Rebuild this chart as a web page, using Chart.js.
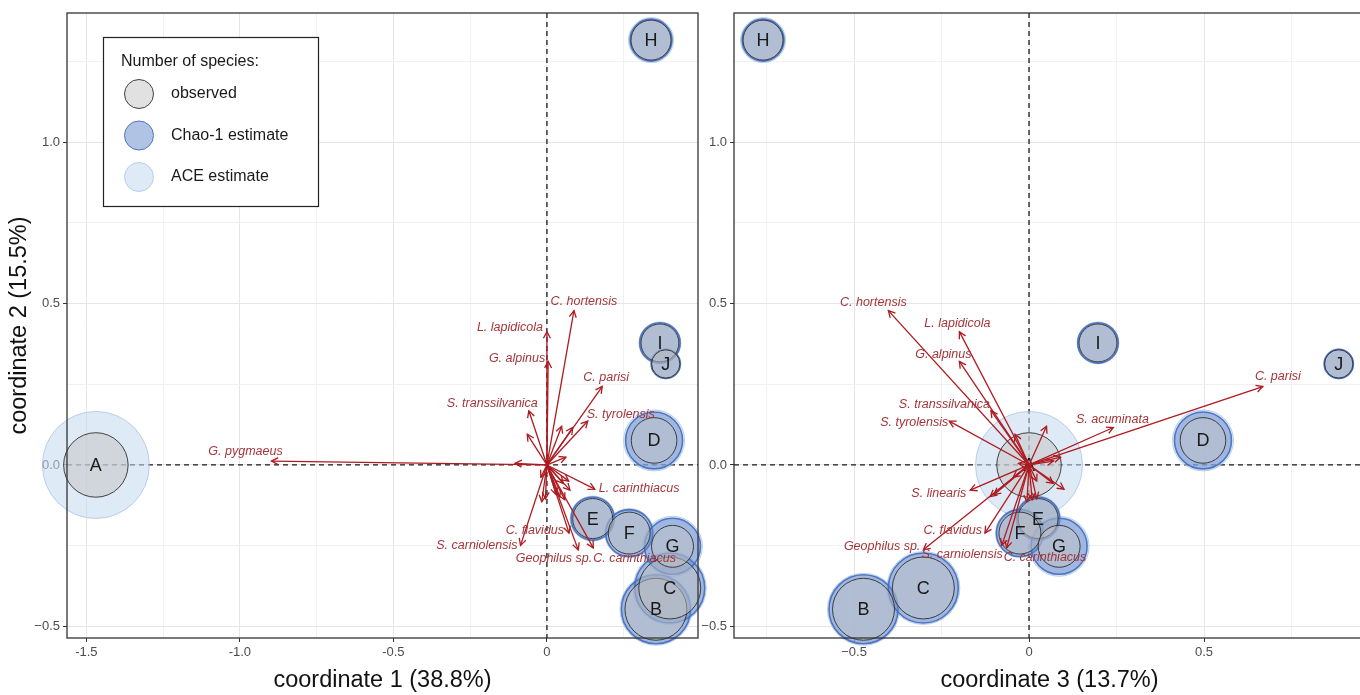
<!DOCTYPE html>
<html>
<head>
<meta charset="utf-8">
<script src="https://cdn.jsdelivr.net/npm/chart.js@4.4.1/dist/chart.umd.min.js"></script>
<style>
  html, body { margin: 0; padding: 0; background: #fff; overflow: hidden; width: 1360px; height: 695px; }
  #left { position: absolute; left: 0; top: 0; }
  #right { position: absolute; left: 700px; top: 0; }
</style>
</head>
<body>
<canvas id="left" width="720" height="695" style="width:720px;height:695px"></canvas>
<canvas id="right" width="670" height="695" style="width:670px;height:695px"></canvas>
<script>
// ---- sites: ordination scores ----
const sites  = ['A', 'B', 'C', 'D', 'E', 'F', 'G', 'H', 'I', 'J'];
const coord1 = [-1.469, 0.355, 0.400, 0.349, 0.149, 0.268, 0.409, 0.339, 0.368, 0.387];
const coord2 = [ 0.000, -0.447, -0.381, 0.076, -0.166, -0.211, -0.252, 1.316, 0.378, 0.313];
const coord3 = [ 0.000, -0.473, -0.302, 0.497, 0.026, -0.026, 0.086, -0.760, 0.197, 0.885];

// ---- number of species per site ----
const observedSpecies = [26, 24, 24, 13, 10, 11, 11, 10, 9, 5];
const chao1Species    = [null, 29.8, 30.6, 20.3, 11.6, 13.8, 19.6, 11.0, 10.2, 5.3];
const aceSpecies      = [71.6, 32.4, 33.3, 23.3, 12.7, 15.0, 22.5, 12.7, 11.0, 5.6];

// ---- species vectors ----
const speciesNames = ['G. pygmaeus', 'C. hortensis', 'L. lapidicola', 'G. alpinus', 'C. parisi',
  'S. transsilvanica', 'S. tyrolensis', 'S. acuminata', 'L. carinthiacus', 'S. linearis',
  'C. flavidus', 'S. carniolensis', 'Geophilus sp.', 'C. carinthiacus',
  '', '', '', '', '', '', '', '', '', '', '', ''];
const vec1 = [-0.897, 0.088, 0.000, 0.004, 0.180, -0.059, 0.133, 0.084, 0.156, 0.075,
  0.072, -0.086, 0.102, 0.151,
  -0.064, 0.048, 0.062, -0.104, 0.071, -0.017, -0.020, 0.042, 0.053, 0.058, -0.005, 0.030];
const vec2 = [0.012, 0.478, 0.413, 0.321, 0.243, 0.168, 0.136, 0.116, -0.075, -0.078,
  -0.211, -0.249, -0.263, -0.257,
  0.095, 0.120, 0.024, 0.005, -0.050, -0.114, -0.038, -0.098, -0.057, -0.108, -0.105, -0.092];
const vec3 = [0.070, -0.402, -0.199, -0.199, 0.668, -0.109, -0.228, 0.241, 0.100, -0.168,
  -0.126, -0.078, -0.302, -0.064,
  -0.040, 0.050, 0.090, -0.030, 0.022, -0.006, -0.045, -0.111, 0.069, 0.009, 0.022, -0.100];

// ---- axes ----
const yTicksMajor = [-0.5, 0, 0.5, 1.0];
const yTickLabels = ['\u22120.5', '0.0', '0.5', '1.0'];
const yTicksMinor = [-0.25, 0.25, 0.75, 1.25];
const x1TicksMajor = [-1.5, -1.0, -0.5, 0];
const x1TickLabels = ['-1.5', '-1.0', '-0.5', '0'];
const x1TicksMinor = [-1.25, -0.75, -0.25, 0.25];
const x3TicksMajor = [-0.5, 0, 0.5];
const x3TickLabels = ['\u22120.5', '0', '0.5'];
const x3TicksMinor = [-0.75, -0.25, 0.25, 0.75];

// ---- styling ----
const FONT = '"Liberation Sans", Arial, Helvetica, sans-serif';
const ARROW = '#ae1a20';
const ARROW_TEXT = '#a5353b';
const OBS_FILL = 'rgba(195,195,195,0.5)',  OBS_LINE = '#2e2e2e';
const CHAO_FILL = 'rgba(98,136,204,0.5)',  CHAO_LINE = 'rgba(66,108,188,0.9)';
const ACE_FILL = 'rgba(196,216,240,0.55)', ACE_LINE = 'rgba(150,182,225,0.6)';
const LEGEND_KEY_R = 14.5;

// symbol area proportional to species number
const radiusFor = n => Math.sqrt(40 * n);

// where each vector label sits relative to its arrow tip: [dx, dy, align]
const labelPlacement1 = {
  'G. pygmaeus': [-26, -10, 'center'], 'C. hortensis': [10, -9, 'center'],
  'L. lapidicola': [-4, -4, 'right'], 'G. alpinus': [-3, -3, 'right'],
  'C. parisi': [4, -9, 'center'], 'S. transsilvanica': [9, -7, 'right'],
  'S. tyrolensis': [-1, -7, 'left'], 'L. carinthiacus': [4, -1, 'left'],
  'C. flavidus': [-5, -3, 'right'], 'S. carniolensis': [-3, 0, 'right'],
  'Geophilus sp.': [14, 9, 'right'], 'C. carinthiacus': [0, 11, 'left']
};
const labelPlacement3 = {
  'C. hortensis': [-15, -8, 'center'], 'L. lapidicola': [-2, -8, 'center'],
  'G. alpinus': [-16, -7, 'center'], 'S. transsilvanica': [-1, -6, 'right'],
  'S. tyrolensis': [-1, 1, 'right'], 'S. acuminata': [-1, -8, 'center'],
  'C. parisi': [15, -10, 'center'], 'S. linearis': [-4, 3, 'right'],
  'C. flavidus': [-3, -3, 'right'], 'Geophilus sp.': [-3, -3, 'right'],
  'S. carniolensis': [1, 9, 'right'], 'C. carinthiacus': [-3, 10, 'left']
};

function siteData(xs, values) {
  const out = [];
  sites.forEach((s, i) => {
    if (values[i] != null) out.push({ x: xs[i], y: coord2[i], r: radiusFor(values[i]) });
  });
  return out;
}

function buildDatasets(xs, vx) {
  const ds = [
    { type: 'bubble', label: 'ACE estimate', data: siteData(xs, aceSpecies),
      backgroundColor: ACE_FILL, borderColor: ACE_LINE, borderWidth: 1, order: 30, clip: false },
    { type: 'bubble', label: 'Chao-1 estimate', data: siteData(xs, chao1Species),
      backgroundColor: CHAO_FILL, borderColor: CHAO_LINE, borderWidth: 1.6, order: 20, clip: false },
    { type: 'bubble', label: 'observed', data: siteData(xs, observedSpecies),
      backgroundColor: OBS_FILL, borderColor: OBS_LINE, borderWidth: 0.9, order: 10, clip: false }
  ];
  speciesNames.forEach((name, i) => {
    ds.push({ type: 'line', label: name, isArrow: true,
      data: [{ x: 0, y: 0 }, { x: vx[i], y: vec2[i] }],
      borderColor: ARROW, borderWidth: 1.3, pointRadius: 0, fill: false, order: 1 });
  });
  return ds;
}

function axisOptions(major, labels, minor, min, max, fitSize, horizontal, title) {
  const isMajor = v => major.indexOf(v) >= 0;
  const opt = {
    type: 'linear', min: min, max: max,
    afterBuildTicks: axis => {
      axis.ticks = major.concat(minor).sort((a, b) => a - b).map(v => ({ value: v }));
    },
    afterFit: axis => { if (horizontal) axis.height = fitSize; else axis.width = fitSize; },
    ticks: {
      autoSkip: false, maxRotation: 0, padding: 3, color: '#4d4d4d',
      font: { family: FONT, size: 13 },
      callback: v => { const k = major.indexOf(v); return k >= 0 ? labels[k] : ''; }
    },
    grid: {
      drawTicks: true, tickLength: 4, lineWidth: 1,
      color: c => (c.tick && isMajor(c.tick.value)) ? '#e6e6e6' : '#f1f1f1',
      tickColor: c => (c.tick && isMajor(c.tick.value)) ? '#333333' : 'rgba(0,0,0,0)'
    },
    border: { display: false }
  };
  if (title) {
    opt.title = { display: true, text: title, color: '#111', font: { family: FONT, size: 23.5 },
      padding: horizontal ? { top: 0, bottom: 0 } : { top: 5, bottom: 0 } };
  }
  return opt;
}

const overlay = {
  id: 'overlay',
  beforeDatasetsDraw(chart) {
    const { ctx, chartArea: a, scales: { x, y } } = chart;
    ctx.save();
    ctx.beginPath(); ctx.rect(a.left, a.top, a.width, a.height); ctx.clip();
    ctx.strokeStyle = '#1a1a1a'; ctx.lineWidth = 1.3; ctx.setLineDash([5, 4]);
    const x0 = x.getPixelForValue(0), y0 = y.getPixelForValue(0);
    ctx.beginPath();
    ctx.moveTo(x0, a.top); ctx.lineTo(x0, a.bottom);
    ctx.moveTo(a.left, y0); ctx.lineTo(a.right, y0);
    ctx.stroke();
    ctx.restore();
  },
  afterDatasetDraw(chart, args) {
    if (chart.data.datasets[args.index].label !== 'observed') return;
    const { ctx, scales: { x, y } } = chart;
    const xs = chart.options.plugins.overlay.xs;
    ctx.save();
    ctx.fillStyle = '#1a1a1a';
    ctx.font = '18px ' + FONT;
    ctx.textAlign = 'center'; ctx.textBaseline = 'middle';
    sites.forEach((s, i) => {
      ctx.fillText(s, x.getPixelForValue(xs[i]), y.getPixelForValue(coord2[i]) + 1);
    });
    ctx.restore();
  },
  afterDatasetsDraw(chart) {
    const { ctx, chartArea: a } = chart;
    const opts = chart.options.plugins.overlay;
    ctx.save();
    // arrow heads and labels
    chart.data.datasets.forEach((ds, i) => {
      if (!ds.isArrow) return;
      const meta = chart.getDatasetMeta(i);
      const p0 = meta.data[0], p1 = meta.data[1];
      const ang = Math.atan2(p1.y - p0.y, p1.x - p0.x);
      const L = 7.5, spread = Math.PI / 6.5;
      ctx.strokeStyle = ARROW; ctx.lineWidth = 1.3; ctx.setLineDash([]);
      ctx.beginPath();
      ctx.moveTo(p1.x - L * Math.cos(ang - spread), p1.y - L * Math.sin(ang - spread));
      ctx.lineTo(p1.x, p1.y);
      ctx.lineTo(p1.x - L * Math.cos(ang + spread), p1.y - L * Math.sin(ang + spread));
      ctx.stroke();
    });
    ctx.fillStyle = ARROW_TEXT;
    ctx.font = 'italic 12.5px ' + FONT;
    ctx.textBaseline = 'middle';
    chart.data.datasets.forEach((ds, i) => {
      if (!ds.isArrow) return;
      const pl = opts.placement[ds.label];
      if (!pl) return;
      const p1 = chart.getDatasetMeta(i).data[1];
      ctx.textAlign = pl[2];
      ctx.fillText(ds.label, p1.x + pl[0], p1.y + pl[1]);
    });
    // panel border
    ctx.strokeStyle = '#333'; ctx.lineWidth = 1.3;
    ctx.strokeRect(a.left, a.top, a.right - a.left, a.bottom - a.top);
    // legend
    if (opts.legend) {
      const bx = 103.5, by = 37.5, bw = 215, bh = 169;
      ctx.fillStyle = '#fff';
      ctx.fillRect(bx, by, bw, bh);
      ctx.strokeStyle = '#222'; ctx.lineWidth = 1.2;
      ctx.strokeRect(bx, by, bw, bh);
      ctx.fillStyle = '#1a1a1a';
      ctx.font = '16px ' + FONT;
      ctx.textAlign = 'left'; ctx.textBaseline = 'middle';
      ctx.fillText('Number of species:', 121, 62);
      const keys = [
        ['observed', OBS_FILL, OBS_LINE, 0.9],
        ['Chao-1 estimate', CHAO_FILL, CHAO_LINE, 1],
        ['ACE estimate', ACE_FILL, ACE_LINE, 1]
      ];
      keys.forEach((k, j) => {
        const cy = 94 + j * 41.5;
        ctx.beginPath(); ctx.arc(139, cy, LEGEND_KEY_R, 0, Math.PI * 2);
        ctx.fillStyle = k[1]; ctx.fill();
        ctx.strokeStyle = k[2]; ctx.lineWidth = k[3]; ctx.stroke();
        ctx.fillStyle = '#1a1a1a';
        ctx.fillText(k[0], 171, cy);
      });
    }
    ctx.restore();
  }
};

function makeChart(id, xs, vx, xAxis, yAxis, padding, placement, legend) {
  return new Chart(document.getElementById(id), {
    type: 'bubble',
    data: { datasets: buildDatasets(xs, vx) },
    options: {
      responsive: false, animation: false, events: [],
      layout: { padding: padding, autoPadding: false },
      scales: { x: xAxis, y: yAxis },
      plugins: {
        legend: { display: false }, tooltip: { enabled: false },
        overlay: { xs: xs, placement: placement, legend: legend }
      }
    },
    plugins: [overlay]
  });
}

const Y_MIN = -0.536, Y_MAX = 1.40;

makeChart('left', coord1, vec1,
  axisOptions(x1TicksMajor, x1TickLabels, x1TicksMinor, -1.563, 0.492, 57, true, 'coordinate 1 (38.8%)'),
  axisOptions(yTicksMajor, yTickLabels, yTicksMinor, Y_MIN, Y_MAX, 67, false, 'coordinate 2 (15.5%)'),
  { top: 13, right: 22, left: 0, bottom: 0 }, labelPlacement1, true);

makeChart('right', coord3, vec3,
  axisOptions(x3TicksMajor, x3TickLabels, x3TicksMinor, -0.843, 0.960, 57, true, 'coordinate 3 (13.7%)'),
  axisOptions(yTicksMajor, yTickLabels, yTicksMinor, Y_MIN, Y_MAX, 34, false, null),
  { top: 13, right: 5, left: 0, bottom: 0 }, labelPlacement3, false);
</script>
</body>
</html>
